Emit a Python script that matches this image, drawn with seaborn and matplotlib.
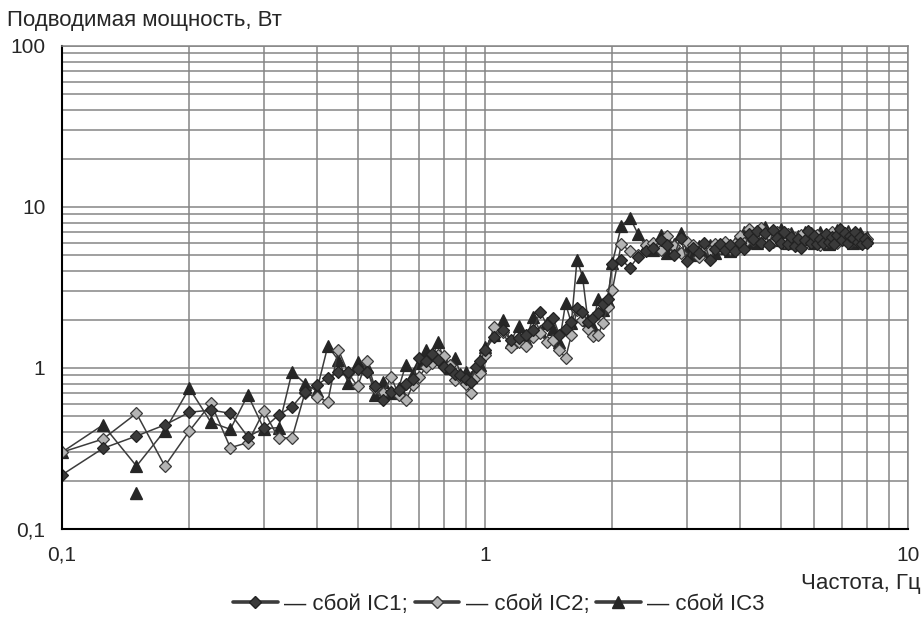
import matplotlib
matplotlib.use('Agg')
import matplotlib.pyplot as plt
from matplotlib.lines import Line2D
from matplotlib.ticker import FuncFormatter, NullFormatter, LogLocator
import pandas as pd
import seaborn as sns

# frequencies, Hz
freq = [0.1, 0.125, 0.15, 0.175, 0.2, 0.225, 0.25, 0.275, 0.3, 0.325,
        0.35, 0.375, 0.4, 0.425, 0.45, 0.475, 0.5, 0.525, 0.55, 0.575,
        0.6, 0.625, 0.65, 0.675, 0.7, 0.725, 0.75, 0.775, 0.8, 0.825,
        0.85, 0.875, 0.9, 0.925, 0.95, 0.975, 1.0,
        1.05, 1.1, 1.15, 1.2, 1.25, 1.3, 1.35, 1.4, 1.45, 1.5,
        1.55, 1.6, 1.65, 1.7, 1.75, 1.8, 1.85, 1.9, 1.95, 2.0,
        2.1, 2.2, 2.3, 2.4, 2.5, 2.6, 2.7, 2.8, 2.9, 3.0,
        3.1, 3.2, 3.3, 3.4, 3.5, 3.6, 3.7, 3.8, 3.9, 4.0,
        4.1, 4.2, 4.3, 4.4, 4.5, 4.6, 4.7, 4.8, 4.9, 5.0,
        5.1, 5.2, 5.3, 5.4, 5.5, 5.6, 5.7, 5.8, 5.9, 6.0,
        6.1, 6.2, 6.3, 6.4, 6.5, 6.6, 6.7, 6.8, 6.9, 7.0,
        7.1, 7.2, 7.3, 7.4, 7.5, 7.6, 7.7, 7.8, 7.9, 8.0]

# power, W
ic1 = [0.217, 0.317, 0.378, 0.443, 0.531, 0.548, 0.523, 0.374, 0.422, 0.51,
       0.575, 0.712, 0.784, 0.87, 0.948, 0.95, 0.98, 0.95, 0.77, 0.63,
       0.71, 0.73, 0.80, 0.86, 1.15, 1.10, 1.23, 1.12, 1.02, 0.98,
       0.92, 0.90, 0.85, 0.82, 1.02, 1.10, 1.29,
       1.55, 1.72, 1.49, 1.53, 1.60, 1.72, 2.24, 1.85, 2.03, 1.60,
       1.75, 1.94, 2.35, 2.24, 1.94, 2.03, 2.2, 2.5, 2.7, 4.4,
       4.7, 4.2, 4.9, 5.3, 5.6, 6.2, 5.8, 5.0, 6.4, 4.6,
       5.6, 5.2, 6.0, 4.7, 5.5, 5.9, 5.4, 5.8, 5.3, 6.0,
       5.5, 6.8, 6.3, 7.1, 6.0, 6.9, 5.8, 7.2, 6.4, 6.0,
       7.0, 5.9, 6.5, 5.7, 6.3, 5.6, 6.2, 7.1, 6.0, 6.6,
       5.9, 6.3, 6.0, 6.8, 6.1, 6.5, 5.9, 6.7, 7.3, 6.2,
       6.9, 6.0, 6.6, 6.4, 7.0, 6.1, 6.5, 5.9, 6.3, 6.0]

ic2 = [0.30, 0.362, 0.523, 0.246, 0.406, 0.603, 0.32, 0.344, 0.54, 0.366,
       0.37, 0.696, 0.66, 0.618, 1.30, 0.93, 0.77, 1.11, 0.75, 0.70,
       0.88, 0.68, 0.63, 0.78, 0.88, 1.02, 1.08, 1.20, 1.18, 1.05,
       0.84, 0.88, 0.80, 0.70, 0.88, 0.93, 1.20,
       1.8, 1.68, 1.35, 1.45, 1.37, 1.55, 1.64, 1.45, 1.49, 1.29,
       1.15, 1.6, 2.29, 2.0, 1.75, 1.57, 1.6, 1.9, 2.4, 3.05,
       5.9, 5.3, 5.0, 5.8, 6.0, 5.4, 6.6, 5.7, 5.2, 6.1,
       5.8, 4.9, 5.6, 5.3, 5.9, 5.6, 6.1, 5.5, 5.9, 6.6,
       6.0, 7.3, 6.2, 6.6, 7.4, 6.3, 6.7, 6.1, 7.0, 6.5,
       6.1, 6.8, 6.0, 6.4, 5.8, 6.7, 6.0, 6.4, 6.9, 6.2,
       6.7, 5.8, 6.5, 6.1, 6.3, 7.0, 6.2, 6.0, 6.6, 7.0,
       6.3, 6.8, 6.1, 6.7, 6.2, 6.6, 6.0, 6.4, 6.1, 6.3]

ic3 = [0.30, 0.443, 0.246, 0.408, 0.748, 0.46, 0.416, 0.68, 0.42, 0.426,
       0.95, 0.80, 0.72, 1.37, 1.12, 0.81, 1.09, 1.02, 0.68, 0.82,
       0.70, 0.75, 1.05, 0.92, 1.08, 1.29, 1.15, 1.46, 1.10, 1.00,
       1.15, 0.92, 0.95, 0.88, 0.98, 1.05, 1.35,
       1.6, 2.0, 1.46, 1.82, 1.5, 2.07, 1.7, 1.9, 1.75, 1.45,
       2.52, 1.9, 4.7, 3.7, 2.0, 1.8, 2.7, 2.3, 2.6, 4.5,
       7.6, 8.6, 6.8, 5.7, 5.4, 6.7, 5.2, 5.9, 6.9, 5.4,
       5.0, 5.7, 5.3, 5.8, 5.2, 5.6, 5.9, 5.3, 6.0, 6.3,
       7.0, 6.1, 6.7, 6.0, 6.5, 7.5, 6.6, 6.2, 6.8, 7.3,
       6.4, 6.0, 6.9, 6.2, 6.6, 6.3, 7.0, 6.2, 6.5, 6.0,
       6.4, 7.0, 6.2, 6.6, 5.9, 6.3, 6.8, 7.2, 6.3, 6.9,
       6.5, 7.1, 6.4, 6.0, 6.6, 6.3, 6.9, 6.5, 6.2, 6.5]

# single detached IC3 point
ic3_extra_f = [0.15]
ic3_extra_v = [0.168]

labels = ['\u2014 сбой IC1;', '\u2014 сбой IC2;', '\u2014 сбой IC3']

sns.set_style('white')
plt.rcParams['font.family'] = ['Liberation Sans', 'DejaVu Sans']

d = pd.DataFrame({'f': freq, 'ic1': ic1, 'ic2': ic2, 'ic3': ic3})

fig = plt.figure(figsize=(9.24, 6.19), dpi=100)
ax = fig.add_axes([0.0671, 0.1454, 0.9156, 0.7803])

line_c = '#3c3c3c'
st = {
    'ic1': dict(marker='D', markersize=6.3, markerfacecolor='#3a3a3a', markeredgecolor='#222222'),
    'ic2': dict(marker='D', markersize=6.3, markerfacecolor='#b4b4b4', markeredgecolor='#3a3a3a'),
    'ic3': dict(marker='^', markersize=8, markerfacecolor='#262626', markeredgecolor='#262626'),
}
for k in ['ic3', 'ic2', 'ic1']:
    sns.lineplot(data=d, x='f', y=k, color=line_c, linewidth=1.1, ax=ax,
                 markeredgewidth=0.9, legend=False, sort=False, **st[k])
ax.plot(ic3_extra_f, ic3_extra_v, linestyle='none', **st['ic3'])

ax.set_xscale('log')
ax.set_yscale('log')
ax.set_xlim(0.1, 10)
ax.set_ylim(0.1, 100)
ax.set_xlabel('')
ax.set_ylabel('')

fmt = FuncFormatter(lambda v, p: ('%g' % v).replace('.', ','))
for a in [ax.xaxis, ax.yaxis]:
    a.set_major_locator(LogLocator(base=10))
    a.set_minor_locator(LogLocator(base=10, subs=range(2, 10)))
    a.set_major_formatter(fmt)
    a.set_minor_formatter(NullFormatter())
ax.grid(True, which='both', color='#858585', linewidth=1.1)
ax.set_axisbelow(True)
ax.tick_params(which='major', direction='out', length=7, width=1.3, color='black',
               labelsize=15, pad=5)
ax.tick_params(which='minor', length=0)
for s in ['top', 'right']:
    ax.spines[s].set_color('#858585')
    ax.spines[s].set_linewidth(1.1)
for s in ['left', 'bottom']:
    ax.spines[s].set_color('black')
    ax.spines[s].set_linewidth(1.5)

fig.text(0.008, 0.967, 'Подводимая мощность, Вт', fontsize=16, va='center', ha='left')
fig.text(0.996, 0.058, 'Частота, Гц', fontsize=16, va='center', ha='right')

handles = [Line2D([], [], color=line_c, linewidth=2.6, **st[k]) for k in ['ic1', 'ic2', 'ic3']]
fig.legend(handles, labels, loc='center', bbox_to_anchor=(0.54, 0.023), ncol=3,
           frameon=False, fontsize=16, handlelength=2.0, handletextpad=0.3,
           columnspacing=0.3)

fig.savefig('out.png', dpi=100)
